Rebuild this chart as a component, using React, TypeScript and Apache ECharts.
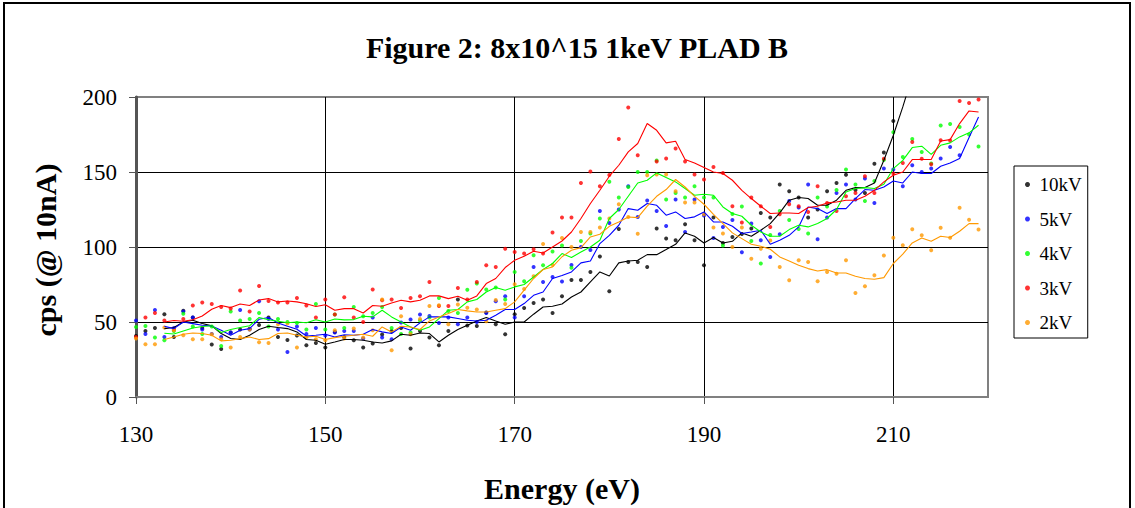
import React, { useEffect, useRef } from 'react';
import * as echarts from 'echarts';

// Energy (eV) of each measured point
const energy = [
  130, 131, 132, 133, 134, 135, 136, 137, 138, 139,
  140, 141, 142, 143, 144, 145, 146, 147, 148, 149,
  150, 151, 152, 153, 154, 155, 156, 157, 158, 159,
  160, 161, 162, 163, 164, 165, 166, 167, 168, 169,
  170, 171, 172, 173, 174, 175, 176, 177, 178, 179,
  180, 181, 182, 183, 184, 185, 186, 187, 188, 189,
  190, 191, 192, 193, 194, 195, 196, 197, 198, 199,
  200, 201, 202, 203, 204, 205, 206, 207, 208, 209,
  210, 211, 212, 213, 214, 215, 216, 217, 218, 219,
];

const seriesNames = ['10kV', '5kV', '4kV', '3kV', '2kV'];
const seriesColors = ['#000000', '#0000ff', '#00ff00', '#ff0000', '#ff9900'];

// Measured points (cps @ 10nA), one per energy
const pts10kV = [
  40.7, 44, 46, 55.2, 40, 57.5, 53, 46, 35, 32,
  43, 45, 45.5, 48, 53, 40, 38, 41, 34.5, 36,
  33, 43.4, 40, 37.8, 33, 35.6, 41.6, 44, 46, 32.3,
  44, 39.6, 34.5, 44, 65, 47.7, 47.4, 56.3, 48.5, 41.8,
  55.2, 59.4, 62.7, 65, 56, 67.2, 78, 78, 83.4, 93.6,
  70.5, 112, 90, 90, 86.7, 112.3, 105.6, 104.5, 115.2, 104.5,
  87.8, 119.6, 102.7, 106.7, 108.6, 112.3, 122.7, 119.6, 141.6, 137.2,
  133, 119.6, 125, 137.2, 142.7, 148.2, 138, 136, 155.5, 163,
  184, null, null, null, null, null, null, null, null, null,
];
const pts5kV = [
  51, 42, 58, 40, 46, 57, 53, 45, 42, 40,
  43, 58, 45, 63.8, 52, 45, 30, 47, 42, 46,
  41, 43, 44, 44, 39, 53, 39.6, 38.5, 49.6, 51.6,
  55, 54, 49.4, 53, 48.5, 53, 50, 56, 63.8, 67.2,
  53, 67.2, 86.7, 76.7, 80, 77, 88, 100, 98, 124,
  116, 125, 140.5, 120, 131, 124, 114, 131.6, 110, 131.6,
  121, 106, 113.4, 118, 96.5, 115.6, 104.5, 93.4, 108.5, 130.7,
  126.3, 141.6, 105.2, 119.6, 136, 141.6, 131.6, 145.6, 129.4, 152.3,
  151.6, 140.5, 154.5, 150, 152.3, 159, 166.7, 161.2, 204, 214,
];
const pts4kV = [
  46.6, 47.4, 39.6, 37.8, 44, 55.5, 47, 42, 47, 34,
  57, 51, 52, 56, 47, 52, 50, 49.4, 45, 62,
  45, 55, 46, 60, 53.8, 56, 60, 46, 42, 43,
  51, 53, 66, 57.3, 56, 71.5, 75.6, 71.6, 73, 65,
  83.4, 77.2, 94.5, 87.8, 97, 101, 86.2, 104, 109, 119,
  143.5, 133, 140, 150, 150, 157.7, 131.6, 136, 133, 140.5,
  133, 133, 101, 122, 127, 104, 89, 108, 124, 118,
  112, 109, 133, 127, 138, 151.6, 141.6, 130.7, 144, 158,
  176.5, 160, 172, 163.4, 155.6, 181, 182, 180, 175, 167,
];
const pts3kV = [
  40, 53, 56, 51, 45, 52, 61, 63, 62, 60,
  59, 71, 57, 74, 64, 63, 63, 66, 61, 53,
  65, 55, 66.5, 53, 50, 71.6, 64.5, 65, 59.4, 66,
  67.2, 76.7, 60.7, 60.7, 72.7, 65, 76.7, 87.8, 86.7, 98.9,
  96.7, 95.6, 98.5, 95.6, 109.6, 119.6, 119.6, 142.7, 150.3, 140.5,
  148, 172, 193, 161.2, 203, 157, 159, 165.6, 157, 148.3,
  145, 153.4, 149.4, 127.2, 116.3, 133, 127.2, 113.4, 121.8, 128.5,
  127.2, 123.4, 140.5, 129.4, 124, 133.8, 136, 147.2, 136, 158.9,
  149, 156, 170, 158.9, 155.2, 171.2, 171, 197.4, 196, 198.3,
];
const pts2kV = [
  39, 35.2, 35.2, 46.3, 44.5, 41.2, 38.5, 38.5, 41.8, 38.5,
  33, 40, 45, 36.5, 36, 48.5, 49, 33, 39.6, 38.5,
  37.8, 44.5, 39, 45.6, 39.6, 44.5, 65, 31.2, 53.8, 41.8,
  52, 60.7, 61.2, 48.5, 61.6, 59.5, 58.3, 50.5, 64.7, 62,
  75.2, 72, 80.5, 102, 88, 106, 100, 110, 110, 113,
  119, 128.5, 120, 108.8, 147.8, 148.3, 148.3, 137.2, 129.6, 129.6,
  121.8, 113, 109, 100, 113, 92.2, 98.9, 104.4, 86.7, 77.8,
  91.1, 90, 77.1, 83.3, 82.2, 91.1, 69.3, 73.8, 81.1, 94.4,
  106.2, 101.1, 111.8, 107.8, 97.8, 112.9, 106.2, 126.2, 118.2, 111.6,
];

// Moving-average trend lines as drawn, read at each energy from 133 eV on
const trendStart = 133;
const trend10kV = [
  45.6, 46.3, 50, 51.2, 49, 47.4, 42.3, 39, 38.3, 41.2, 45, 47.2, 46.3, 45.6, 43.4, 38.3, 37.8, 35.2, 36.7, 38.3,
  38.3, 37.8, 36.7, 36, 37.4, 41.8, 41.2, 42.7, 42.3, 36.7, 41.2, 45, 47.8, 50.7, 53, 50.7, 48.5, 50, 50, 55.2, 60, 60.5, 62,
  66.7, 70, 76.7, 83.4, 80.7, 89.4, 90.7, 91.2, 94.9, 94.9, 98.3, 101.8, 109.4, 107.2, 102.7, 106.3, 102.7, 103.8, 109.4, 107.2, 111.2, 115.6, 122.7,
  131.2, 133, 132.3, 127.8, 127.8, 131.2, 137.8, 139.6, 139.6, 142.7, 157.8, 174.5, 193.4, 214,
];
const trend5kV = [
  47.2, 45.6, 50, 48.9, 47.8, 47.4, 44.5, 41.2, 44.5, 45.6, 51.8, 53, 49.4, 47.2, 45.2, 40.7, 41.2, 41.8, 40, 41.5,
  41.2, 41.8, 45, 43.4, 42.3, 46.7, 44.5, 49.4, 53.4, 53.4, 53.4, 52.3, 51.2, 50.7, 51.2, 54.5, 58.3, 58.3, 62.3, 67.8, 70, 79, 81,
  83.4, 89.4, 90.7, 102.3, 107.8, 114.5, 125.6, 124.5, 129, 127.8, 121.2, 123.4, 119, 120.1, 123.4, 116.7, 116.7, 113.8, 109, 110, 111.2, 101.8, 104.5,
  107.8, 113.4, 126.7, 125.6, 122.3, 125.6, 125.6, 132.3, 138.3, 137.8, 140, 144, 142.7, 150, 149, 149, 153.8, 156, 159, 173, 186.7,
];
const trend4kV = [
  42.5, 42, 44, 46, 47, 47.5, 43, 45, 46.3, 47.5, 53, 51.5, 50.5, 49.5, 50, 49.5, 51.5, 50, 52, 51.4,
  51.6, 53.8, 53.4, 57.8, 53.4, 50, 46.7, 44.5, 46.7, 52.3, 57.8, 58.3, 63.4, 65, 70, 73, 71.2, 73.4, 75, 80, 85, 89, 95.6,
  93, 96.7, 100, 104.5, 119, 125, 133.8, 142.7, 144.5, 149.4, 146.3, 143.4, 139, 134.5, 135.2, 134.5, 126.7, 122.3, 120.5, 114.5, 110, 107.2, 107.2,
  111.6, 114.5, 113.4, 115.6, 119, 125, 136.7, 139, 139.6, 139, 141.8, 152.3, 157.8, 166.3, 167.2, 161.8, 167.8, 169.4, 173.4, 176.1, 181.2,
];
const trend3kV = [
  50, 51, 50.5, 51.5, 54, 58.5, 61, 59.6, 62, 61, 64.7, 65.6, 63.4, 64, 63.4, 62.2, 60.3, 61.5, 57.8, 58.9,
  58.9, 56, 61, 60.5, 62.7, 64.5, 63.4, 64.5, 67.4, 67.4, 65.6, 67.2, 64.5, 67.4, 75.6, 79, 86.3, 91.2, 93.8, 97.2, 96, 100, 104,
  110, 119, 129, 137.8, 147.2, 154.5, 163.4, 169, 182.3, 177.8, 169.4, 170.5, 158.3, 156, 153, 150, 149, 144.5, 137.8, 132.3, 127.2, 122.3, 122.7,
  122.7, 122.3, 126.3, 127.2, 129.4, 130, 131.2, 131.2, 133.8, 137.8, 143.4, 147.8, 150, 158.3, 158.3, 158.3, 170.7, 171.6, 182.3, 190.7, 190,
];
const trend2kV = [
  38.3, 40, 41.8, 42.7, 42.3, 41.2, 37.4, 37.8, 38.9, 40, 38.3, 38.9, 42.3, 42.7, 41.2, 40, 40.5, 38.3, 39.6, 40.5,
  41.2, 41.8, 40.5, 46.7, 43.4, 47.2, 46.7, 45, 50.7, 53.4, 55.6, 58.3, 57.4, 56.7, 56.7, 57.8, 58.9, 63.4, 71.2, 79, 85, 86.7, 93.5,
  97.8, 99.6, 106.7, 108.5, 113.8, 116.7, 120, 119.6, 127.2, 133.8, 138.3, 145, 140, 133.8, 128.5, 121.8, 115.6, 109.4, 105.6, 101.8, 100.5, 98.5, 93.4,
  90.7, 87.8, 85.6, 84, 84.9, 82.7, 82.7, 80.5, 79, 78.5, 79.6, 89, 95.2, 102.7, 106, 103.8, 107.2, 106.3, 110.5, 115.6, 115.6,
];

const xTicks = { min: 130, max: 220, interval: 20 };
const yTicks = { min: 0, max: 200, interval: 50 };

const titleText = 'Figure 2: 8x10^15 1keV PLAD B';
const xTitle = 'Energy (eV)';
const yTitle = 'cps (@ 10nA)';

const FONT = '"Liberation Serif", "Times New Roman", "DejaVu Serif", serif';

export default function App() {
  const ref = useRef<HTMLDivElement>(null);

  useEffect(() => {
    if (!ref.current) return;
    const chart = echarts.init(ref.current, null, { renderer: 'svg' });

    const points = [pts10kV, pts5kV, pts4kV, pts3kV, pts2kV];
    const trends = [trend10kV, trend5kV, trend4kV, trend3kV, trend2kV];

    const scatterSeries = points.map((arr, i) => ({
      name: seriesNames[i],
      type: 'scatter',
      symbol: 'circle',
      symbolSize: 4,
      itemStyle: { color: seriesColors[i] },
      data: energy
        .map((e, k) => [e, arr[k]])
        .filter((d) => d[1] !== null && d[1] !== undefined),
      clip: true,
      z: 2,
    }));

    const lineSeries = trends.map((arr, i) => ({
      name: seriesNames[i] + ' trend',
      type: 'line',
      showSymbol: false,
      symbol: 'none',
      lineStyle: { color: seriesColors[i], width: 1.1 },
      itemStyle: { color: seriesColors[i] },
      data: arr.map((v, k) => [trendStart + k, v]),
      clip: true,
      z: 3,
    }));

    chart.setOption({
      animation: false,
      backgroundColor: '#ffffff',
      grid: {
        left: 136,
        top: 97,
        width: 852,
        height: 300,
        show: true,
        borderColor: '#808080',
        borderWidth: 2,
      },
      legend: {
        data: seriesNames,
        orient: 'vertical',
        left: 1014,
        top: 166,
        icon: 'circle',
        itemWidth: 14,
        itemHeight: 5,
        itemGap: 15.5,
        padding: [9, 6, 6, 11],
        borderColor: '#000',
        borderWidth: 1,
        textStyle: { fontFamily: FONT, fontSize: 19, color: '#000' },
        selectedMode: false,
      },
      xAxis: {
        type: 'value',
        min: xTicks.min,
        max: xTicks.max,
        interval: xTicks.interval,
        axisLine: { show: true, onZero: false, lineStyle: { color: '#808080', width: 2 } },
        axisTick: { show: true, length: 7, lineStyle: { color: '#555', width: 1 } },
        axisLabel: {
          fontFamily: FONT,
          fontSize: 23,
          color: '#000',
          margin: 26,
          showMaxLabel: false,
        },
        splitLine: {
          show: true,
          showMinLine: false,
          showMaxLine: false,
          lineStyle: { color: '#000', width: 1 },
        },
      },
      yAxis: {
        type: 'value',
        min: yTicks.min,
        max: yTicks.max,
        interval: yTicks.interval,
        axisLine: { show: true, lineStyle: { color: '#555', width: 3 } },
        axisTick: { show: true, length: 7, lineStyle: { color: '#555', width: 1 } },
        axisLabel: { fontFamily: FONT, fontSize: 23, color: '#000', margin: 19 },
        splitLine: {
          show: true,
          showMinLine: false,
          showMaxLine: false,
          lineStyle: { color: '#000', width: 1 },
        },
      },
      graphic: [
        {
          type: 'rect',
          shape: { x: 4, y: 3, width: 1126, height: 530 },
          style: { fill: 'none', stroke: '#000', lineWidth: 2 },
          silent: true,
        },
        {
          type: 'text',
          x: 577,
          y: 47,
          style: {
            text: titleText,
            align: 'center',
            verticalAlign: 'middle',
            fontFamily: FONT,
            fontSize: 30,
            fontWeight: 'bold',
            fill: '#000',
          },
        },
        {
          type: 'text',
          x: 562,
          y: 488,
          style: {
            text: xTitle,
            align: 'center',
            verticalAlign: 'middle',
            fontFamily: FONT,
            fontSize: 30,
            fontWeight: 'bold',
            fill: '#000',
          },
        },
        {
          type: 'text',
          x: 45,
          y: 250,
          rotation: Math.PI / 2,
          style: {
            text: yTitle,
            align: 'center',
            verticalAlign: 'middle',
            fontFamily: FONT,
            fontSize: 30,
            fontWeight: 'bold',
            fill: '#000',
          },
        },
      ],
      series: [...scatterSeries, ...lineSeries],
    });

    return () => chart.dispose();
  }, []);

  return (
    <div
      ref={ref}
      style={{ position: 'fixed', left: 0, top: 0, width: 1135, height: 508, background: '#fff' }}
    />
  );
}
